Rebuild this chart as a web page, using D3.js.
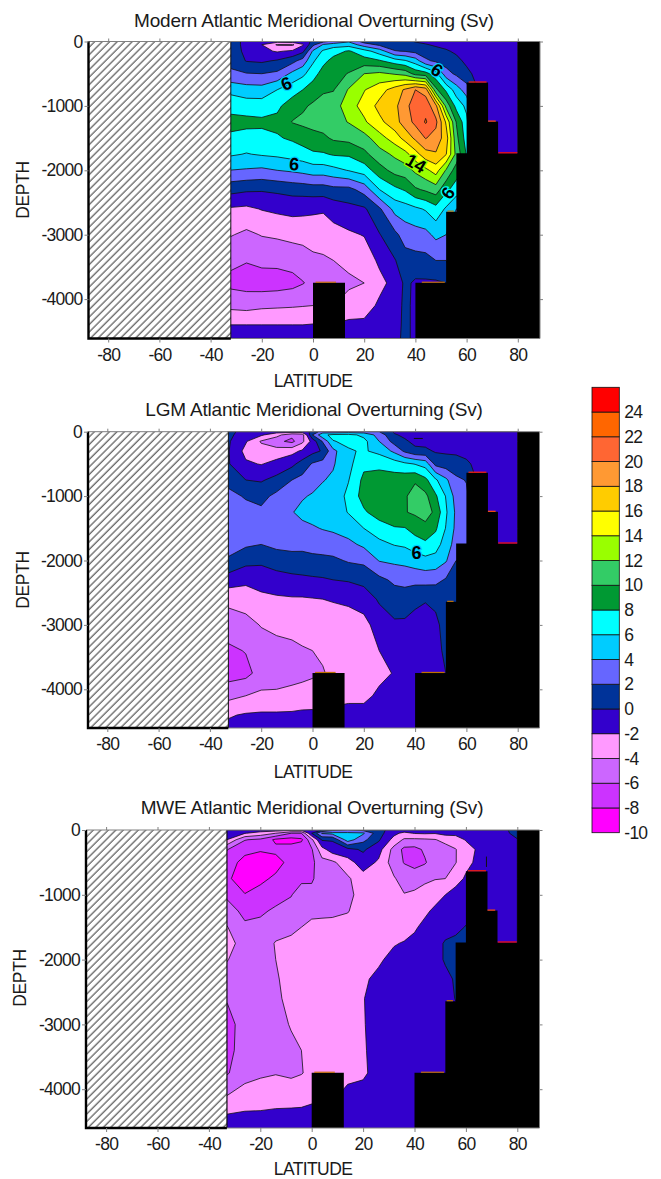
<!DOCTYPE html>
<html><head><meta charset="utf-8">
<script src="https://cdn.jsdelivr.net/npm/d3@7/dist/d3.min.js"></script>
<style>html,body{margin:0;padding:0;background:#fff}svg{display:block}text{font-family:"Liberation Sans",Arial,sans-serif;fill:#1a1a1a}</style>
</head><body><div id="c"></div>
<script>
const lats=[-33,-26,-20,-14,-8,-4,0,4,8,14,20,26,32,36,40,44,48,52,56,60,66,72,80];
const depths=[0,-50,-150,-300,-500,-750,-1000,-1250,-1500,-1750,-2000,-2300,-2600,-3000,-3400,-3750,-4100,-4400,-4610];
const modernColumns=[
[1,1,1.3,1.5,2.4,5.5,7.3,8.7,7.6,6.3,4,0.7,-2.2,-3.8,-5.5,-6.5,-4.5,-2,-1],
[-0.5,-0.5,-0.5,-0.1,2.1,4.9,7,8.6,7.2,5.9,3.8,0.3,-2.4,-4.4,-5.9,-6.8,-4.7,-2,-1],
[-1.6,-2,-1.5,-0.3,2,4.8,7,8.4,7.4,6.2,3.6,0.2,-1.9,-3.9,-5.5,-7,-4.4,-2,-1],
[-1.2,-4.2,-2.2,0.2,2.4,6,7.6,8.5,7.8,6.4,4,0.4,-1.6,-3.7,-5.5,-6.9,-4.3,-2,-1],
[-1,-4.3,-1.7,1.4,4.5,7.2,9,10.1,8.3,6.8,4.3,0.7,-1.4,-3.4,-5.3,-6.6,-4.2,-2,-1],
[-0.8,-2.2,-0.5,2.8,5.5,8,9.7,10.4,8.9,7.1,4.6,0.8,-1.5,-3.3,-5,-6.1,-4.1,-2,-1],
[0.3,1.5,4.3,5.7,7.2,9,10.3,10.7,9.3,7.7,5,1,-1.7,-3,-4.5,-5.5,-4,-1.9,-1],
[1.5,4.2,6.3,7.5,8.8,9.8,10.6,10.9,9.6,7.8,5,1,-1.8,-3,-4.3,-5.2,-4,-1.9,-1],
[2.5,5,7.3,8.6,9.4,9.9,11,11.3,10.3,8.2,5.4,1.4,-1.2,-2.7,-4,-4.9,-4,-1.9,-1],
[3.8,5.2,8.2,9,10.1,12.2,13.2,12.1,10.6,8.3,6.1,1.4,-0.6,-2.3,-3.6,-4.3,-3.3,-1.5,-1],
[1.2,3,6.8,8.8,12,13.9,14.7,13.7,11.2,9.5,6.9,2.8,-0.3,-1.9,-3.2,-4,-3,-1.5,-1],
[0.7,1.6,5,8.2,12.4,15.2,16.6,15.5,13.2,11.2,9.2,6,1.7,-0.1,-1.6,-2.6,-1.6,-1,-0.7],
[0.3,1,2.1,6.9,11.8,16.9,17.5,17.2,15,12.4,10.7,7.5,4.7,1.5,-0.1,-1.3,-1,-0.8,-0.6],
[0.4,0.9,1.9,6.2,11.3,18.3,19.4,19,16.7,13.3,11.1,8.2,5.1,2.9,1.1,0.4,0.5,0.5,0.5],
[-0.1,0.5,1.4,5,9.3,20,21,20.5,18.4,15.2,12.4,9.7,5.6,3.2,1.3,-0.3,-0.5,-0.5,-0.5],
[-0.3,0.1,0.9,2.4,8.8,19.1,21.3,22.2,20.1,17.2,13.5,10.3,6.2,3.4,1.4,-0.3,-0.5,-0.5,-0.5],
[-0.6,-0.2,0.5,1.6,6.7,10.5,18.5,20.5,19.2,17.8,14.9,11,7.3,4.5,2,-0.3,-0.5,-0.5,-0.5],
[-0.9,-0.5,0.2,1.1,2.8,7.6,11.4,15.7,17,16.1,11.8,8.5,5.7,4,2,0,-0.5,-0.5,-0.5],
[-1,-0.8,-0.3,0.5,1.6,5,7.3,9.9,10.6,11.4,9,7,4,3,2,2,2,2,2],
[-1,-1,-0.8,-0.4,0.5,3,5.5,6.5,7,7.8,7.8,7,4,3,2,2,2,2,2],
[-1,-1,-1,-1,-1,-1,-1,-1,-1,-1,-1,-1,-1,-1,-1,-1,-1,-1,-1],
[-1,-1,-1,-1,-1,-1,-1,-1,-1,-1,-1,-1,-1,-1,-1,-1,-1,-1,-1],
[-1,-1,-1,-1,-1,-1,-1,-1,-1,-1,-1,-1,-1,-1,-1,-1,-1,-1,-1]];
const lgmColumns=[
[0.5,0.5,0.3,0.2,0.2,1.4,2.6,3,3.4,3,1.7,-0.9,-3.5,-5,-6.4,-6.9,-4.6,-2.2,-1.5],
[-0.6,-1,-1.8,-2.6,-1.7,0,1.8,2.7,3,2.3,0.6,-1.5,-3.2,-4.6,-5.9,-6.6,-4,-1.8,-1.3],
[-0.8,-1.7,-4.2,-3.2,-2.1,-0.2,1.4,2.4,2.8,2,0.5,-1.5,-2.3,-3.9,-4.9,-5.2,-3.6,-1.7,-1.3],
[-1.2,-3.3,-5.5,-3.1,-1.4,0.6,2.5,3.2,3.2,2.5,0.9,-0.8,-2.3,-3.5,-4.7,-5,-3.6,-1.7,-1.3],
[-1,-5.5,-6.5,-2.6,-0.5,2,3.3,3.9,3.5,2.7,1.1,-0.5,-2.2,-3.3,-4.5,-4.8,-3.3,-1.7,-1.3],
[-1,-5,-4.5,-1.7,0.8,2.6,3.8,4.5,3.5,2.6,1.2,-0.4,-2.2,-3.1,-4.2,-4.6,-3.1,-1.6,-1.3],
[0.5,2,-1.2,-0.6,2.2,3.2,4.2,4.7,3.8,2.8,1.4,-0.3,-2.1,-3,-4,-4.3,-3,-1.6,-1.3],
[3,5.5,2.2,0.2,2.8,3.9,4.6,5,4.1,2.9,1.5,-0.2,-2,-2.9,-3.8,-4.1,-2.9,-1.6,-1.3],
[2.5,6.5,5.9,3.4,3.8,4.3,4.7,5,4.3,3.1,1.6,0,-1.9,-2.7,-3.4,-3.7,-2.6,-1.5,-1.3],
[3,6.6,6.4,5.8,5.4,5.9,6.5,6.1,4.9,3.5,2.2,0.2,-1.8,-2.5,-3,-3.2,-2.4,-1.4,-1.2],
[3,5.5,6.6,6.2,7.5,8.5,8.8,7.7,6,4.4,2.4,0.7,-1.3,-2.5,-2.8,-3,-2.4,-1.4,-1.2],
[2,3.2,4,5.5,7.4,9,9.5,9,7,5.5,4.1,1.5,0.3,-1.3,-2,-2.4,-1.7,-1.2,-1],
[-0.3,0.2,1.2,3.5,7,8.9,9.6,9.8,7.8,6.1,4.4,2.4,1,-0.3,-1.1,-1.9,-1.4,-1,-1],
[-0.5,-0.4,0.3,1.6,6.4,9.2,9.7,9.9,7.9,6.3,4.6,2.5,1.2,-0.4,-0.8,-1,-1,-1,-1],
[-1,-0.8,-0.5,0.5,5.9,9.7,11,10.3,8.8,7,5,2.6,0.4,-0.6,-0.8,-1,-1,-1,-1],
[-1,-1,-0.6,0.4,5.2,8.5,10.5,11,9.3,7.6,5.4,2.7,0.1,-0.6,-0.8,-1,-1,-1,-1],
[-1,-1,-0.8,-0.2,1.4,6.3,8.3,9.5,8.3,6.9,5.2,2.6,0.3,-0.3,-0.3,-1,-1,-1,-1],
[-1,-1,-0.9,-0.3,1,4.4,5.9,6.3,5.9,5,4.2,1.8,0.8,0.5,0.2,0,0,0,0],
[-1,-1,-1,-0.4,0.9,2.4,3.2,3.6,3.5,3.2,2,1.2,1,0.5,0.3,0,0,0,0],
[-1,-1,-1,-0.7,0.4,1.9,2.4,2.6,2.6,2.5,2,1.2,1,0.5,0.3,0,0,0,0],
[-1,-1,-1,-1,-1,-1,-1,-1,-1,-1,-1,-1,-1,-1,-1,-1,-1,-1,-1],
[-1,-1,-1,-1,-1,-1,-1,-1,-1,-1,-1,-1,-1,-1,-1,-1,-1,-1,-1],
[-1,-1,-1,-1,-1,-1,-1,-1,-1,-1,-1,-1,-1,-1,-1,-1,-1,-1,-1]];
const mweColumns=[
[-1,-1.5,-2,-5.9,-7,-7.6,-6.4,-5,-3.9,-3.1,-3.9,-4.8,-5.9,-6.6,-6.7,-6.2,-4,-1.9,-1.2],
[-1.2,-1.9,-5.9,-7.4,-8.7,-9.2,-7.9,-6.6,-5.6,-5,-5,-5.1,-5.5,-5.3,-5,-4.7,-3.2,-1.7,-1.2],
[-1,-2.8,-6.4,-7.8,-9,-8.5,-7.2,-6.3,-5.5,-4.8,-4.7,-4.6,-4.6,-4.6,-4.5,-4.3,-3,-1.7,-1.2],
[-1,-4,-8.4,-7.5,-8.8,-7.6,-6.7,-5.7,-4.6,-3.9,-4,-4.3,-4.4,-4.5,-4.4,-4.1,-2.8,-1.6,-1.2],
[-1.5,-6,-8.8,-7,-7.3,-6.6,-6.1,-5.3,-4.3,-3.7,-3.3,-3,-3.4,-3.9,-4.3,-4.4,-2.7,-1.6,-1.2],
[-1.5,-6,-8.4,-6.5,-6.7,-6.4,-5.1,-4.5,-4,-3.5,-3,-2.8,-2.9,-3.2,-4,-4.1,-2.6,-1.6,-1.2],
[-1,0,-4.5,-6.2,-6.5,-6.3,-5.3,-4.3,-3.7,-3.2,-2.8,-2.6,-2.6,-2.8,-3.3,-3.5,-2.3,-1.6,-1.2],
[0,4.2,0.2,-2.7,-4.7,-4.9,-4.7,-4.4,-3.5,-3,-2.7,-2.5,-2.5,-2.6,-2.8,-2.9,-2.4,-1.6,-1.2],
[1.5,4.6,0.2,-1,-4.4,-4.6,-4.6,-4.4,-3.4,-2.9,-2.6,-2.4,-2.4,-2.5,-2.6,-2.7,-2.3,-1.5,-1.1],
[2,4.5,5,-0.6,-2.8,-4.3,-4.6,-4.1,-3.3,-2.8,-2.5,-2.3,-2.3,-2.3,-2.4,-2.5,-1.5,-1,-1],
[1.5,4.3,2.6,0.3,-1,-2.8,-3.1,-3.1,-2.9,-2.7,-2.5,-2.2,-2.05,-2.1,-2.2,-2.3,-1.3,-1,-1],
[0.8,0.8,0.3,-1.2,-2.3,-2.7,-2.8,-2.7,-2.6,-2.5,-2.2,-1.7,-1.5,-1.4,-1.3,-1.3,-1,-1,-1],
[-1,-1.5,-2.7,-4.7,-5,-3.8,-2.9,-2.7,-2.5,-2.1,-1.6,-1.2,-1,-1,-1,-1,-1,-1,-1],
[-1,-2.5,-4.3,-6.5,-6.1,-4.9,-3.9,-3,-2.6,-1.9,-1.3,-1,-1,-1,-1,-1,-1,-1,-1],
[-1,-1.9,-4.4,-6.6,-6.6,-5,-3.6,-2.8,-2.2,-1.6,-1.2,-1,-1,-1,-1,-1,-1,-1,-1],
[-1,-1.8,-4.3,-5.7,-6.2,-4.4,-3.2,-2.3,-1.6,-1.2,-1,-1,-1,-1,-1,-1,-1,-1,-1],
[-1,-1.9,-4.1,-5,-5,-4.1,-2.6,-1.7,-1.2,-1,-1,-1,-1,-1,-1,-1,-1,-1,-1],
[-1,-1.4,-3.4,-4.8,-4.9,-4,-2,-1.4,-1.1,0.3,0.3,-0.7,-1,-1,-1,-1,-1,-1,-1],
[-1,-1.6,-2.7,-4.1,-4.1,-2.6,-1.4,-1,-0.5,0.5,0.6,0.3,0.1,-1,-1,-1,-1,-1,-1],
[-1,-1.2,-1.9,-2.6,-2.4,-1.8,-1.2,-0.7,0.1,0.5,0.5,0.3,0.1,-1,-1,-1,-1,-1,-1],
[-1,-1,-1.3,-1.6,-1.5,-1,-1,-1,-1,-1,-1,-1,-1,-1,-1,-1,-1,-1,-1],
[-1,-1,-1,-1,-1,-1,-1,-1,-1,-1,-1,-1,-1,-1,-1,-1,-1,-1,-1],
[0.8,0.6,-0.1,-1,-1,-1,-1,-1,-1,-1,-1,-1,-1,-1,-1,-1,-1,-1,-1]];
const thresholds=[-10,-8,-6,-4,-2,0,2,4,6,8,10,12,14,16,18,20,22,24];
const bandColors=["#ff00ff","#cc33ff","#cc66ff","#ff99ff","#3300cc","#003399","#6666ff","#00ccff","#00ffff","#009933","#33cc66","#99ff00","#ffff00","#ffcc00","#ff9933","#ff6633","#ff6600","#ff0000"];
const latTicks=[-80,-60,-40,-20,0,20,40,60,80];
const depthTicks=[0,-1000,-2000,-3000,-4000];
const legendTicks=[-10,-8,-6,-4,-2,0,2,4,6,8,10,12,14,16,18,20,22,24];
const seamountLats=[0,12.5], seamountDepths=[-3746,-3746];
const ridgeLats=[40,52,56,60,68.4,72.3,80,90];
const ridgeDepths=[-3746,-2642,-1736,-637,-1244,-1736,0,0];
const rimLatStart=[60.8,68.4,72.4,52.5,42.5,1];
const rimLatEnd=[67.8,71.4,79.8,55,51.5,9];
const rimDepth=[-637,-1244,-1736,-2642,-3746,-3746];
const rimColor=["#ff2000","#ff5000","#ff1000","#c07000","#c07000","#c07000"];
const titles=["Modern Atlantic Meridional Overturning (Sv)","LGM Atlantic Meridional Overturning (Sv)","MWE Atlantic Meridional Overturning (Sv)"];
const xLabel="LATITUDE", yLabel="DEPTH";
const inlineLabelText=[["6","6","6","14","6"],["6"],[]];
const inlineLabelLat=[[-10.5,-7.3,48.5,40.2,52.7],[40.5],[]];
const inlineLabelDepth=[[-650,-1900,-440,-1890,-2350],[-1870],[]];
const inlineLabelAngle=[[-22,4,35,30,-55],[0],[]];
const inlineLabelHalo=[["#00ccff","#00ccff","#00ccff","#99ff00","#00ffff"],["#00ccff"],[]];
const tinyLat0=[[],[39.5],[68]];
const tinyLat1=[[],[43],[68]];
const tinyDepth0=[[],[-105],[-410]];
const tinyDepth1=[[],[-105],[-570]];
const panelColumns=[modernColumns,lgmColumns,mweColumns];

const W=661,H=1179;
const svg=d3.select("#c").append("svg").attr("width",W).attr("height",H);
const defs=svg.append("defs");
const pat=defs.append("pattern").attr("id","hatch").attr("patternUnits","userSpaceOnUse").attr("width",5.3).attr("height",5.3).attr("patternTransform","rotate(45)");
pat.append("rect").attr("width",5.3).attr("height",5.3).attr("fill","#fff");
pat.append("line").attr("x1",1).attr("x2",1).attr("y1",0).attr("y2",5.3).attr("stroke","#000").attr("stroke-width",0.8);

const layout=[
 {zero:313,k:2.56,left:88.5,right:540,top:41.5,bottom:338.5,dk:0.0644,hatch:-32.1,titleX:314,titleY:27,dx:23,dy:190,lx:313,ly:387},
 {zero:312.5,k:2.565,left:88,right:539.5,top:431.7,bottom:728,dk:0.0644,hatch:-32.8,titleX:314,titleY:416,dx:23,dy:580,lx:313,ly:778},
 {zero:311.7,k:2.57,left:86,right:539.5,top:830,bottom:1128,dk:0.0648,hatch:-33,titleX:312,titleY:814,dx:20,dy:978,lx:313,ly:1175}
];
const axisFont=a=>a.selectAll("text").attr("font-size",17.5).attr("letter-spacing",-0.75).attr("font-family",'"Liberation Sans",Arial,sans-serif').style("fill","#1a1a1a");

layout.forEach((p,pi)=>{
  const x=d3.scaleLinear().domain([0,80]).range([p.zero,p.zero+80*p.k]);
  const y=d3.scaleLinear().domain([0,-4000]).range([p.top,p.top+4000*p.dk]);
  const g=svg.append("g");
  const cols=panelColumns[pi], n=lats.length, m=depths.length;
  const flat=[];
  for(let j=0;j<m;j++)for(let i=0;i<n;i++)flat.push(cols[i][j]);
  const ix=d3.scaleLinear().domain(d3.range(n)).range(lats).clamp(true);
  const iy=d3.scaleLinear().domain(d3.range(m)).range(depths).clamp(true);
  const proj=d3.geoTransform({point(a,b){this.stream.point(x(ix(a-0.5)),y(iy(b-0.5)));}});
  const path=d3.geoPath(proj);
  const contours=d3.contours().size([n,m]).thresholds(thresholds).smooth(true)(flat);
  const cid="clip"+pi;
  defs.append("clipPath").attr("id",cid).append("rect").attr("x",p.left).attr("y",p.top).attr("width",p.right-p.left).attr("height",p.bottom-p.top);
  const plot=g.append("g").attr("clip-path",`url(#${cid})`);
  plot.append("rect").attr("x",p.left).attr("y",p.top).attr("width",p.right-p.left).attr("height",p.bottom-p.top).attr("fill","#3300cc");
  plot.selectAll("path.band").data(contours).join("path").attr("class","band").attr("d",path)
    .attr("fill",(d,i)=>bandColors[i]).attr("stroke","#111").attr("stroke-width",0.8).attr("stroke-linejoin","round");
  tinyLat0[pi].forEach((t,i)=>{
    plot.append("line").attr("x1",x(t)).attr("x2",x(tinyLat1[pi][i])).attr("y1",y(tinyDepth0[pi][i])).attr("y2",y(tinyDepth1[pi][i])).attr("stroke","#111").attr("stroke-width",1);
  });
  inlineLabelText[pi].forEach((t,i)=>{
    const lx=x(inlineLabelLat[pi][i]), ly=y(inlineLabelDepth[pi][i]);
    plot.append("text").attr("transform",`translate(${lx},${ly}) rotate(${inlineLabelAngle[pi][i]})`).attr("text-anchor","middle").attr("dy","0.36em")
      .attr("font-size",18).attr("font-weight","bold").style("fill","#000").attr("stroke",inlineLabelHalo[pi][i]).attr("stroke-width",2.5).attr("paint-order","stroke").text(t);
  });
  const floor=d3.area().curve(d3.curveStepAfter).x(d=>x(d[0])).y1(d=>y(d[1])).y0(p.bottom);
  plot.append("path").attr("d",floor(d3.zip(seamountLats,seamountDepths))).attr("fill","#000");
  plot.append("path").attr("d",floor(d3.zip(ridgeLats,ridgeDepths))).attr("fill","#000");
  rimDepth.forEach((t,i)=>{
    plot.append("rect").attr("x",x(rimLatStart[i])).attr("y",y(t)-1.1).attr("width",x(rimLatEnd[i])-x(rimLatStart[i])).attr("height",1.2).attr("fill",rimColor[i]);
  });
  g.append("rect").attr("x",p.left).attr("y",p.top).attr("width",x(p.hatch)-p.left).attr("height",p.bottom-p.top).attr("fill","url(#hatch)").attr("stroke","none");
  g.append("line").attr("x1",x(p.hatch)).attr("x2",x(p.hatch)).attr("y1",p.top).attr("y2",p.bottom).attr("stroke","#111").attr("stroke-width",1);
  g.append("path").attr("d",`M${p.left},${p.top}H${p.right}V${p.bottom}H${x(p.hatch)}`).attr("fill","none").attr("stroke","#808080").attr("stroke-width",1);
  g.append("path").attr("d",`M${p.left},${p.top}V${p.bottom}H${x(p.hatch)}`).attr("fill","none").attr("stroke","#000").attr("stroke-width",2.4);
  const style=a=>{a.select(".domain").remove();a.selectAll(".tick line").attr("stroke","#808080");axisFont(a);};
  g.append("g").attr("transform",`translate(0,${p.bottom})`).call(d3.axisBottom(x).tickValues(latTicks).tickSize(4).tickPadding(6).tickFormat(d=>String(d))).call(style);
  g.append("g").attr("transform",`translate(0,${p.top})`).call(d3.axisTop(x).tickValues(latTicks).tickSize(3).tickFormat("")).call(style);
  g.append("g").attr("transform",`translate(${p.left},0)`).call(d3.axisLeft(y).tickValues(depthTicks).tickSize(4).tickPadding(2).tickFormat(d=>String(d))).call(style);
  g.append("g").attr("transform",`translate(${p.right},0)`).call(d3.axisRight(y).tickValues(depthTicks).tickSize(3).tickFormat("")).call(style);
  g.append("text").attr("x",p.titleX).attr("y",p.titleY).attr("text-anchor","middle").attr("font-size",19).attr("letter-spacing",-0.2).text(titles[pi]);
  g.append("text").attr("x",p.lx).attr("y",p.ly).attr("text-anchor","middle").attr("font-size",17.5).attr("letter-spacing",-0.6).text(xLabel);
  g.append("text").attr("transform",`translate(${p.dx+6},${p.dy}) rotate(-90)`).attr("text-anchor","middle").attr("font-size",17.5).attr("letter-spacing",-0.4).text(yLabel);
});

const ly=d3.scaleLinear().domain([-10,26]).range([832.7,387.3]);
const leg=svg.append("g");
leg.selectAll("rect").data(thresholds).join("rect").attr("x",592).attr("width",27.3)
  .attr("y",d=>ly(d+2)).attr("height",d=>ly(d)-ly(d+2)).attr("fill",(d,i)=>bandColors[i]).attr("stroke","#111").attr("stroke-width",0.8);
const la=leg.append("g").attr("transform","translate(619.3,0)").call(d3.axisRight(ly).tickValues(legendTicks).tickSize(0).tickPadding(5).tickFormat(d=>String(d)));
la.select(".domain").remove();
axisFont(la);
</script></body></html>
